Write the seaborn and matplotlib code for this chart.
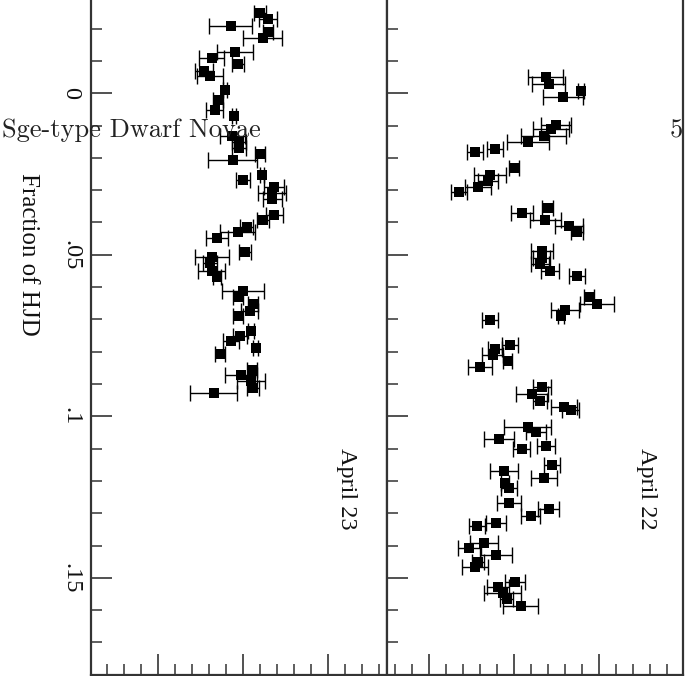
import matplotlib
matplotlib.use("Agg")
import matplotlib.pyplot as plt
from matplotlib.ticker import MultipleLocator, FuncFormatter
import pandas as pd
import seaborn as sns

# April 23 run (left panel): fraction of HJD, relative magnitude, error
hjd_a23 = [-0.0250, -0.0230, -0.0209, -0.0189, -0.0172, -0.0127, -0.0110, -0.0092,
           -0.0070, -0.0054, -0.0011, 0.0020, 0.0051, 0.0069, 0.0131, 0.0150,
           0.0168, 0.0189, 0.0207, 0.0253, 0.0269, 0.0289, 0.0308, 0.0327,
           0.0376, 0.0392, 0.0413, 0.0429, 0.0448, 0.0492, 0.0508, 0.0526,
           0.0549, 0.0568, 0.0611, 0.0631, 0.0651, 0.0673, 0.0690, 0.0735,
           0.0751, 0.0768, 0.0788, 0.0807, 0.0856, 0.0871, 0.0890, 0.0911, 0.0927]
mag_a23 = [0.2200, 0.2291, 0.1855, 0.2298, 0.2232, 0.1906, 0.1635, 0.1941,
           0.1541, 0.1608, 0.1788, 0.1706, 0.1667, 0.1894, 0.1871, 0.1953,
           0.1953, 0.2200, 0.1879, 0.2220, 0.2000, 0.2365, 0.2345, 0.2345,
           0.2368, 0.2235, 0.2044, 0.1941, 0.1694, 0.2020, 0.1635, 0.1612,
           0.1635, 0.1694, 0.2000, 0.1941, 0.2118, 0.2079, 0.1941, 0.2091,
           0.1961, 0.1855, 0.2151, 0.1729, 0.2106, 0.1973, 0.2092, 0.2115, 0.1656]
err_a23 = [0.0065, 0.0106, 0.0253, 0.0059, 0.0229, 0.0206, 0.0147, 0.0065,
           0.0106, 0.0153, 0.0024, 0.0059, 0.0100, 0.0024, 0.0147, 0.0088,
           0.0088, 0.0053, 0.0291, 0.0024, 0.0088, 0.0118, 0.0165, 0.0112,
           0.0100, 0.0071, 0.0076, 0.0206, 0.0129, 0.0071, 0.0200, 0.0082,
           0.0159, 0.0047, 0.0247, 0.0059, 0.0059, 0.0100, 0.0059, 0.0035,
           0.0082, 0.0094, 0.0029, 0.0059, 0.0059, 0.0188, 0.0165, 0.0071, 0.0279]

# April 22 run (right panel)
hjd_a22 = [-0.0051, -0.0029, -0.0008, 0.0011, 0.0098, 0.0111, 0.0132, 0.0150,
           0.0172, 0.0182, 0.0230, 0.0253, 0.0272, 0.0290, 0.0305, 0.0354,
           0.0371, 0.0392, 0.0410, 0.0428, 0.0488, 0.0509, 0.0529, 0.0549,
           0.0566, 0.0630, 0.0652, 0.0670, 0.0689, 0.0701, 0.0778, 0.0791,
           0.0809, 0.0828, 0.0847, 0.0908, 0.0930, 0.0952, 0.0971, 0.0980,
           0.1032, 0.1050, 0.1070, 0.1091, 0.1101, 0.1150, 0.1169, 0.1190,
           0.1207, 0.1222, 0.1267, 0.1287, 0.1309, 0.1329, 0.1340, 0.1392,
           0.1407, 0.1429, 0.1450, 0.1466, 0.1512, 0.1529, 0.1548, 0.1566, 0.1586]
mag_a22 = [0.2376, 0.2408, 0.2788, 0.2576, 0.2494, 0.2435, 0.2349, 0.2165,
           0.1776, 0.1541, 0.2000, 0.1718, 0.1691, 0.1576, 0.1353, 0.2396,
           0.2094, 0.2365, 0.2644, 0.2741, 0.2329, 0.2329, 0.2306, 0.2424,
           0.2741, 0.2882, 0.2973, 0.2600, 0.2549, 0.1718, 0.1953, 0.1776,
           0.1749, 0.1926, 0.1600, 0.2329, 0.2212, 0.2306, 0.2588, 0.2667,
           0.2161, 0.2259, 0.1824, 0.2376, 0.2091, 0.2447, 0.1882, 0.2353,
           0.1894, 0.1941, 0.1941, 0.2408, 0.2196, 0.1788, 0.1565, 0.1644,
           0.1471, 0.1788, 0.1576, 0.1538, 0.2012, 0.1812, 0.1867, 0.1914, 0.2079]
err_a22 = [0.0206, 0.0196, 0.0041, 0.0239, 0.0173, 0.0208, 0.0265, 0.0251,
           0.0094, 0.0098, 0.0062, 0.0188, 0.0118, 0.0151, 0.0092, 0.0067,
           0.0133, 0.0182, 0.0162, 0.0073, 0.0129, 0.0100, 0.0102, 0.0108,
           0.0098, 0.0062, 0.0200, 0.0168, 0.0035, 0.0098, 0.0094, 0.0079,
           0.0127, 0.0055, 0.0139, 0.0109, 0.0186, 0.0079, 0.0149, 0.0098,
           0.0273, 0.0118, 0.0180, 0.0109, 0.0098, 0.0098, 0.0168, 0.0153,
           0.0047, 0.0096, 0.0145, 0.0124, 0.0108, 0.0112, 0.0098, 0.0162,
           0.0135, 0.0185, 0.0067, 0.0151, 0.0121, 0.0129, 0.0215, 0.0073, 0.0208]

xlim_a23 = (0.0212, 0.3694)
xlim_a22 = (0.0506, 0.3988)
ylim = (0.18, -0.035)

sns.set_theme(style="ticks")
plt.rcParams["font.family"] = ["Liberation Serif", "DejaVu Serif"]

SPINE = "#333333"


def frac_label(v, pos):
    if abs(v) < 1e-9:
        return "0"
    return f"{v:g}".replace("0.", ".")


def draw_panel(ax, hjd, mag, err, xlim, label, label_x):
    df = pd.DataFrame({"hjd": hjd, "mag": mag, "err": err})
    ax.errorbar(df["mag"], df["hjd"], xerr=df["err"], fmt="none", ecolor="black",
                elinewidth=1.0, capsize=5.5, capthick=1.0, zorder=2)
    sns.scatterplot(data=df, x="mag", y="hjd", marker="s", s=44, color="black",
                    linewidth=0, ax=ax, zorder=3)
    ax.set_xlim(*xlim)
    ax.set_ylim(*ylim)
    ax.set_xlabel("")
    ax.set_ylabel("")
    ax.xaxis.set_major_locator(MultipleLocator(0.1))
    ax.xaxis.set_minor_locator(MultipleLocator(0.02))
    ax.yaxis.set_major_locator(MultipleLocator(0.05))
    ax.yaxis.set_minor_locator(MultipleLocator(0.01))
    ax.tick_params(which="both", direction="in", color=SPINE, top=False, right=False,
                   labelbottom=False)
    ax.tick_params(which="major", length=15, width=1.2)
    ax.tick_params(which="minor", length=8, width=1.1)
    for sp in ax.spines.values():
        sp.set_color(SPINE)
        sp.set_linewidth(1.6)
    ax.text(label_x, 0.1225, label, transform=ax.get_yaxis_transform(),
            rotation=270, ha="center", va="center", fontsize=17.5, color="#111111")


fig = plt.figure(figsize=(7, 6.76), dpi=100)
bottom = 1.3 / 676
height = 694.45 / 676
ax1 = fig.add_axes([91 / 700, bottom, 296 / 700, height])
ax2 = fig.add_axes([387 / 700, bottom, 296 / 700, height])

draw_panel(ax1, hjd_a23, mag_a23, err_a23, xlim_a23, "April 23", 0.863)
draw_panel(ax2, hjd_a22, mag_a22, err_a22, xlim_a22, "April 22", 0.878)

ax1.yaxis.set_major_formatter(FuncFormatter(frac_label))
ax1.tick_params(axis="y", labelsize=17.5, pad=7, labelcolor="#111111")
for t in ax1.get_yticklabels():
    t.set_rotation(270)
    t.set_va("center")
ax1.set_ylabel("Fraction of HJD", fontsize=18, rotation=270, rotation_mode="default",
               ha="center", va="center", color="#111111")
ax1.yaxis.set_label_coords(-0.213, 0.605)
ax2.tick_params(axis="y", labelleft=False)

# running header of the page, printed over the figure
fig.text(0.003, 0.7978, "Sge-type Dwarf Novae", family="cmr10", fontsize=19,
         color="#222222", va="baseline")
fig.text(0.9757, 0.7959, "5", family="cmr10", fontsize=19, color="#222222",
         ha="right", va="baseline")

fig.savefig("out.png", dpi=100)
plt.close()
